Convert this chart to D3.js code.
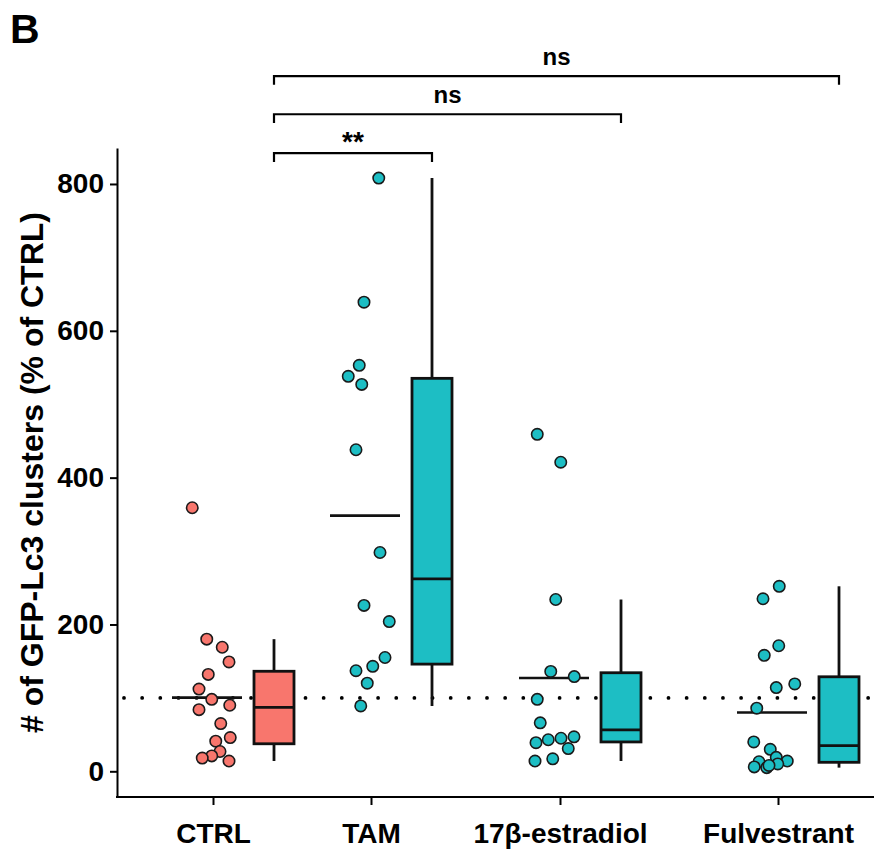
<!DOCTYPE html>
<html>
<head>
<meta charset="utf-8">
<script src="https://cdn.jsdelivr.net/npm/d3@7"></script>
<style>
  body { margin: 0; background: #fff; }
  svg { display: block; font-family: "Liberation Sans", Arial, sans-serif; font-weight: bold; }
  .axis path, .axis line { stroke: #000; stroke-width: 2; }
  .axis text { fill: #000; font-size: 28px; }
</style>
</head>
<body>
<div id="chart"></div>
<script>
const groups = ["CTRL", "TAM", "17β-estradiol", "Fulvestrant"]

const ctrlValues = [359, 180, 169, 149, 132, 112, 98, 90, 84, 65, 46, 41, 27, 21, 18, 14]
const ctrlJitter = [-0.59, -0.01, 0.61, 0.88, 0.05, -0.32, 0.19, 0.91, -0.32, 0.55, 0.93, 0.35, 0.52, 0.19, -0.19, 0.88]

const tamValues = [808, 639, 553, 538, 527, 438, 298, 226, 204, 155, 143, 137, 120, 89]
const tamJitter = [0.55, -0.04, -0.23, -0.67, -0.13, -0.36, 0.6, -0.04, 0.97, 0.8, 0.31, -0.36, 0.09, -0.17]

const estradiolValues = [459, 421, 234, 136, 129, 98, 66, 39, 43, 45, 47, 31, 14, 17]
const estradiolJitter = [-0.67, 0.27, 0.07, -0.13, 0.81, -0.67, -0.55, -0.72, -0.23, 0.28, 0.8, 0.57, -0.76, -0.05]

const fulvestrantValues = [252, 235, 171, 158, 119, 114, 86, 40, 30, 19, 14, 13, 10, 6, 5, 8]
const fulvestrantJitter = [0.29, -0.36, 0.27, -0.31, 0.91, 0.17, -0.61, -0.73, -0.07, 0.17, 0.61, -0.52, 0.23, -0.71, -0.21, -0.12]

const yTicks = [0, 200, 400, 600, 800]
const referenceLevel = 100

const comparisons = [
  {from: "CTRL", to: "TAM", label: "**", level: 842},
  {from: "CTRL", to: "17β-estradiol", label: "ns", level: 895},
  {from: "CTRL", to: "Fulvestrant", label: "ns", level: 947}
]

const groupColors = ["#F8766D", "#1DBEC4", "#1DBEC4", "#1DBEC4"]

class ClusterChart {
  width = 874
  height = 855

  constructor(element, series) {
    this.container = element
    this.series = series
    this.margin = ({top: 148, right: 0, bottom: 58, left: 117})

    this.x = d3.scaleOrdinal()
      .domain(groups)
      .range([213, 371, 560, 778])

    // jitter of the dots around their own centre, left of the tick
    this.jitter = d3.scaleLinear().domain([-1, 1]).range([-25, 25])
    this.dotShift = -6
    this.boxShift = 61
    this.boxWidth = 40
    this.meanHalf = 35

    this.y = d3.scaleLinear()
      .domain([-35, 849])
      .range([this.height - this.margin.bottom, this.margin.top])
  }

  draw() {
    this.svg = d3.select(this.container).append("svg")
      .attr("width", this.width)
      .attr("height", this.height)
      .attr("viewBox", [0, 0, this.width, this.height])

    this.svg.append("text")
      .attr("x", 10)
      .attr("y", 43)
      .attr("font-size", 41)
      .text("B")

    this.referenceLine()
    this.axes()
    this.series.forEach(s => this.groupMarks(s))
    this.brackets()
  }

  referenceLine() {
    this.svg.append("line")
      .attr("x1", this.margin.left + 7)
      .attr("x2", this.width)
      .attr("y1", this.y(referenceLevel))
      .attr("y2", this.y(referenceLevel))
      .attr("stroke", "#000")
      .attr("stroke-width", 3.8)
      .attr("stroke-linecap", "round")
      .attr("stroke-dasharray", "0 18.15")
  }

  axes() {
    const y = this.y
    const baseY = this.height - this.margin.bottom

    this.svg.append("g")
      .attr("class", "axis")
      .attr("transform", `translate(${this.margin.left}, 0)`)
      .call(d3.axisLeft(y).tickValues(yTicks).tickSize(7).tickSizeOuter(0).tickPadding(6))
      .attr("font-family", null).attr("font-size", null)

    this.svg.append("g")
      .attr("class", "axis")
      .attr("transform", `translate(0, ${baseY})`)
      .call(d3.axisBottom(this.x).tickSize(8).tickSizeOuter(0))
      .attr("font-family", null).attr("font-size", null)
      .call(g => g.select(".domain").remove())
      .call(g => g.selectAll(".tick text").attr("y", 46).attr("dy", null))

    this.svg.append("line")
      .attr("x1", this.margin.left - 1)
      .attr("x2", this.width)
      .attr("y1", baseY)
      .attr("y2", baseY)
      .attr("stroke", "#000")
      .attr("stroke-width", 2)

    this.svg.append("text")
      .attr("transform", `translate(43, ${(this.margin.top + baseY) / 2}) rotate(-90)`)
      .attr("text-anchor", "middle")
      .attr("font-size", 32)
      .text("# of GFP-Lc3 clusters (% of CTRL)")
  }

  groupMarks(s) {
    const y = this.y
    const cx = this.x(s.group) + this.dotShift
    const bx = this.x(s.group) + this.boxShift
    const g = this.svg.append("g")

    const mean = d3.mean(s.values)
    g.append("line")
      .attr("x1", cx - this.meanHalf).attr("x2", cx + this.meanHalf)
      .attr("y1", y(mean)).attr("y2", y(mean))
      .attr("stroke", "#111")
      .attr("stroke-width", 2.6)

    g.selectAll("circle")
      .data(s.values.map((v, i) => ({value: v, j: s.jitter[i]})))
      .join("circle")
      .attr("cx", d => cx + this.jitter(d.j))
      .attr("cy", d => y(d.value))
      .attr("r", 5.7)
      .attr("fill", s.color)
      .attr("stroke", "#1a1a1a")
      .attr("stroke-width", 1.6)

    const sorted = s.values.slice().sort(d3.ascending)
    const q1 = d3.quantile(sorted, 0.25)
    const median = d3.quantile(sorted, 0.5)
    const q3 = d3.quantile(sorted, 0.75)
    const iqr = q3 - q1
    const hi = d3.max(sorted.filter(v => v <= q3 + 1.5 * iqr))
    const lo = d3.min(sorted.filter(v => v >= q1 - 1.5 * iqr))

    const box = this.svg.append("g")
    box.append("line")
      .attr("x1", bx).attr("x2", bx)
      .attr("y1", y(hi)).attr("y2", y(lo))
      .attr("stroke", "#111")
      .attr("stroke-width", 2.8)

    box.append("rect")
      .attr("x", bx - this.boxWidth / 2)
      .attr("width", this.boxWidth)
      .attr("y", y(q3))
      .attr("height", y(q1) - y(q3))
      .attr("fill", s.color)
      .attr("stroke", "#111")
      .attr("stroke-width", 2.8)

    box.append("line")
      .attr("x1", bx - this.boxWidth / 2).attr("x2", bx + this.boxWidth / 2)
      .attr("y1", y(median)).attr("y2", y(median))
      .attr("stroke", "#111")
      .attr("stroke-width", 2.8)
  }

  brackets() {
    const y = this.y
    const tip = 12
    const boxX = g => this.x(g) + this.boxShift

    const b = this.svg.append("g")
      .selectAll("g")
      .data(comparisons)
      .join("g")

    b.append("path")
      .attr("d", d => d3.line()([
        [boxX(d.from), y(d.level - tip)],
        [boxX(d.from), y(d.level)],
        [boxX(d.to), y(d.level)],
        [boxX(d.to), y(d.level - tip)]
      ]))
      .attr("fill", "none")
      .attr("stroke", "#000")
      .attr("stroke-width", 2.2)

    b.append("text")
      .attr("x", d => (boxX(d.from) + boxX(d.to)) / 2)
      .attr("y", d => y(d.level) - (d.label === "**" ? 2 : 11))
      .attr("text-anchor", "middle")
      .attr("font-size", d => d.label === "**" ? 28 : 24)
      .text(d => d.label)
  }
}

const series = groups.map((g, i) => ({
  group: g,
  values: [ctrlValues, tamValues, estradiolValues, fulvestrantValues][i],
  jitter: [ctrlJitter, tamJitter, estradiolJitter, fulvestrantJitter][i],
  color: groupColors[i]
}))

const chart = new ClusterChart(document.getElementById("chart"), series)
chart.draw()
</script>
</body>
</html>
